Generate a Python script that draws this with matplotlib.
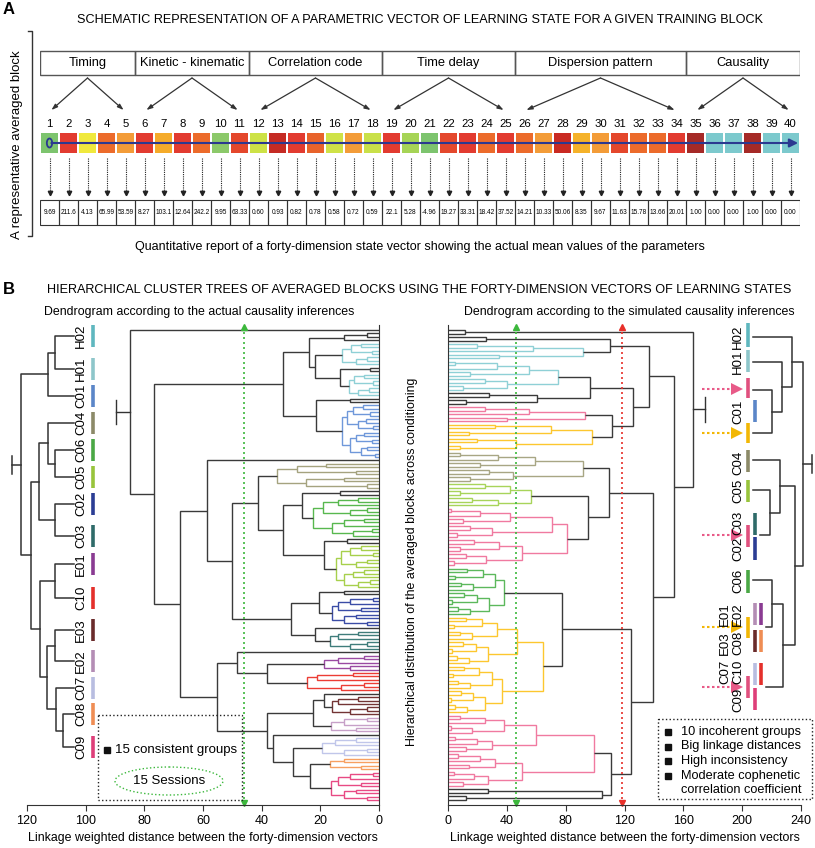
import matplotlib
matplotlib.use('Agg')
import matplotlib.pyplot as plt
from matplotlib.patches import Rectangle, Ellipse

plt.rcParams['font.family'] = ['Liberation Sans', 'DejaVu Sans']

# ------------------------------------------------------------------ data
CATEGORIES = ['Timing', 'Kinetic - kinematic', 'Correlation code', 'Time delay',
              'Dispersion pattern', 'Causality']
CATEGORY_RANGES = [(1, 5), (6, 11), (12, 18), (19, 25), (26, 34), (35, 40)]
PARAM_INDEX = list(range(1, 41))
PARAM_VALUES = ['9.69', '211.6', '4.13', '65.99', '53.59', '8.27', '103.1', '12.64',
                '242.2', '9.95', '63.33', '0.60', '0.93', '0.82', '0.78', '0.58',
                '0.72', '0.59', '22.1', '5.28', '-4.96', '19.27', '33.31', '18.42',
                '37.52', '14.21', '10.33', '50.06', '8.35', '9.67', '11.63', '15.78',
                '13.66', '20.01', '1.00', '0.00', '0.00', '1.00', '0.00', '0.00']
PARAM_COLORS = ['#7dc46e', '#e23b30', '#f0e93d', '#ec6b2b', '#f39c38', '#e23b30',
                '#f5ab2a', '#e23b30', '#ec6b2b', '#8cc96a', '#e4472c', '#cde246',
                '#c52b24', '#e23b30', '#e8632b', '#cfe247', '#f39c38', '#c9e049',
                '#e23b30', '#a6d456', '#7dc46e', '#e4482d', '#e23b30', '#ec6b2b',
                '#e23b30', '#ec6b2b', '#f39c38', '#c92a22', '#f5b22a', '#f39c38',
                '#e4472c', '#ec6b2b', '#ec6b2b', '#e23b30', '#a52a27', '#7cc9cd',
                '#7cc9cd', '#a52a27', '#7cc9cd', '#7cc9cd']

# within-group merge heights (actual causality dendrogram)
L_H02 = [12.7, 9.5, 8, 6, 4, 2.5]
L_H01 = [10.2, 8.5, 7, 5, 3.5, 2]
L_C01 = [12.5, 11, 10, 9, 8, 7, 6, 5.5, 5, 4.5, 4, 3, 2.5, 2, 1.5]
L_C04 = [34.8, 28, 25, 18, 12, 8, 4]
L_C06 = [22.5, 19, 16, 14, 12, 10, 9, 7, 5, 4, 2.5]
L_C05 = [14.7, 13, 12, 10, 9, 8, 7, 6, 5, 4, 3, 2]
L_C02 = [16, 14, 12, 10, 8, 6, 4, 2]
L_C03 = [16.7, 14, 10, 7, 4]
L_E01 = [18.7, 14, 10, 5]
L_C10 = [24.6, 21, 13, 9, 5]
L_E03 = [16, 14, 10, 7, 4]
L_E02 = [16.3, 12, 8, 4]
L_C07 = [19.5, 15, 12, 8, 4]
L_C08 = [16.7, 12, 6]
L_C09 = [16.3, 14, 12, 10, 8, 6, 4, 2]
L_BLK_A = [12, 4]
L_BLK_B = [3]
L_BLK_C = [10]
L_BLK_D = [13.3]
L_BLK_E = [11]
L_BLK_F = [12]
SINGLE = []

LEFT_TREE = [85.0, ('k', SINGLE),
             [76.7,
              [32.7,
               [23.9, ('k', L_BLK_A), [21.8, ('H02', L_H02), [13.3, ('k', L_BLK_B), ('H01', L_H01)]]],
               [21.5, ('k', L_BLK_C), ('C01', L_C01)]],
              [67.9,
               [58.7, ('k', SINGLE),
                [50.2,
                 [41.3, ('C04', L_C04),
                  [32.7, [26.3, ('k', L_BLK_D), ('C06', L_C06)],
                   [18.8, ('k', L_BLK_E), ('C05', L_C05)]]],
                 [30.0, [20.5, ('k', L_BLK_F), ('C02', L_C02)],
                  [21.8, ('k', SINGLE), ('C03', L_C03)]]]],
               [55.3,
                [48.5, ('k', SINGLE), [38.2, ('E01', L_E01), ('C10', L_C10)]],
                [38.2,
                 [22.5, [18.7, ('k', SINGLE), ('E03', L_E03)], ('E02', L_E02)],
                 [36.1, ('k', SINGLE),
                  [29.3, ('C07', L_C07), [23.5, ('C08', L_C08), ('C09', L_C09)]]]]]]]]

# within-group merge heights (simulated causality dendrogram)
R_BLK1 = [11.6]
R_BLK2 = [26]
R_BLK3 = [60.5, 28, 12]
R_BLK4 = [104.9, 27, 12]
R_CYAN_A = [91.8, 58, 35, 20]
R_CYAN_B = [74.8, 55, 40, 33, 25, 15, 10, 5]
R_PINK_A = [93, 55, 40, 25]
R_YELLOW_A = [97.9, 70, 46, 32, 20, 14, 8]
R_KHAKI = [92, 59, 44, 34, 28, 22, 15, 8]
R_YGREEN = [56.6, 42, 34, 25, 16, 8]
R_PINK_B = [80.9, 71, 50, 42, 35, 30, 26, 22, 18, 15, 12, 10, 8, 6, 4, 2]
R_GREEN = [38, 32, 28, 24, 20, 17, 15, 13, 11, 9, 7, 5, 3]
R_YELLOW_B = [64.5, 47, 37, 33, 30, 27, 25, 23, 21, 19, 17, 16, 15, 14, 13, 12, 11,
              10, 9, 8, 7, 6, 5, 4, 3.5, 3, 2]
R_PINK_C = [99.2, 60, 50, 38, 32, 30, 27, 25, 22, 20, 18, 16, 14, 12, 10, 8, 7, 5, 4, 2]

RIGHT_TREE = [166.6, ('k', R_BLK1),
              [153.7,
               [136.7,
                [110.2, ('k', R_BLK2), ('cyan', R_CYAN_A)],
                [125.8,
                 [96.6, ('cyan', R_CYAN_B), ('k', R_BLK3)],
                 [111.5, ('pink', R_PINK_A), ('yellow', R_YELLOW_A)]]],
               [139.5,
                [109.6, ('khaki', R_KHAKI), [95.5, ('ygreen', R_YGREEN), ('pink', R_PINK_B)]],
                [124.4,
                 [77.5, ('green', R_GREEN), ('yellow', R_YELLOW_B)],
                 [110.8, ('pink', R_PINK_C), ('k', R_BLK4)]]]]]

LINE_COLORS = {'k': '#3a3a3a', 'H02': '#8fd0d6', 'H01': '#8fd0d6', 'C01': '#6f98da',
               'C04': '#a5a37f', 'C06': '#58b84f', 'C05': '#a7d04c', 'C02': '#3a4ca6',
               'C03': '#3f7d7b', 'E01': '#9a4aa2', 'C10': '#ec3d35', 'E03': '#733434',
               'E02': '#c7a0c8', 'C07': '#c0c6ea', 'C08': '#f7a061', 'C09': '#e84a84',
               'cyan': '#8fd0d6', 'pink': '#f07aa0', 'yellow': '#fdc72f',
               'khaki': '#a8a684', 'ygreen': '#a8d45a', 'green': '#5cb85c'}
BAR_COLORS = {'H02': '#5fb7bf', 'H01': '#8ec6ca', 'C01': '#5b86c8', 'C04': '#8c8a68',
              'C06': '#4aa845', 'C05': '#98c43c', 'C02': '#2b3d94', 'C03': '#2f6b69',
              'E01': '#8a3b92', 'C10': '#e4302b', 'E03': '#6a2b2b', 'E02': '#b48db5',
              'C07': '#b8bde0', 'C08': '#ef8d54', 'C09': '#de3f79',
              'pink': '#e0507e', 'yellow': '#f2b705'}

# side trees of session groups
LEFT_LABELS = ['H02', 'H01', 'C01', 'C04', 'C06', 'C05', 'C02', 'C03', 'E01', 'C10',
               'E03', 'E02', 'C07', 'C08', 'C09']
LEFT_LABEL_Y = [336, 369, 396, 423, 450, 477, 504, 536, 564, 598, 630, 661, 688, 714, 747]
LEFT_MINI = [21, [48, [55, 'H02', 'H01'], 'C01'],
             [31, [39, [48, 'C04', [55, 'C06', 'C05']], [55, 'C02', 'C03']],
              [40, [55, 'E01', 'C10'], [47, [55, 'E03', 'E02'], [56, 'C07', [63, 'C08', 'C09']]]]]]

RIGHT_LABELS = ['H02', 'H01', 'C01', 'C04', 'C05', 'C03', 'C02', 'C06',
                'E01', 'E02', 'E03', 'C08', 'C07', 'C10', 'C09']
RIGHT_LABEL_X = [738, 738, 738, 738, 738, 738, 738, 738, 725, 738, 725, 738, 725, 738, 738]
RIGHT_LABEL_Y = [337, 362, 412, 463, 491, 523, 549, 581, 614, 614, 643, 643, 672, 672, 700]
RIGHT_BARS = [('H02', 748, 323, 347), ('H01', 748, 350, 372), ('pink', 748, 378, 398),
              ('C01', 755, 400, 422), ('yellow', 748, 423, 443), ('C04', 748, 450, 472),
              ('C05', 748, 480, 502), ('C03', 755, 513, 535), ('pink', 748, 525, 547),
              ('C02', 755, 537, 560), ('C06', 748, 570, 593), ('E02', 755, 603, 625),
              ('E01', 761, 603, 625), ('yellow', 748, 617, 638), ('E03', 755, 630, 652),
              ('C08', 761, 630, 652), ('C07', 755, 663, 685), ('C10', 761, 663, 685),
              ('pink', 748, 676, 698), ('C09', 755, 688, 710)]
RIGHT_MINI_Y = {'H02': 337, 'H01': 362, 'Cp': 390, 'Cy': 433, 'C04': 460, 'C05': 490,
                'C23': 535, 'C06': 580, 'E': 627, 'Cg': 687}
RIGHT_MINI_X = {'H02': 753, 'H01': 753, 'Cp': 753, 'Cy': 753, 'C04': 753, 'C05': 753,
                'C23': 760, 'C06': 753, 'E': 766, 'Cg': 766}
RIGHT_MINI = [803, [792, 'H02', [782, 'H01', [772, 'Cp', 'Cy']]],
              [795, [780, 'C04', [770, 'C05', 'C23']], [783, [772, 'C06', 'E'], 'Cg']]]
MISPLACED_ARROWS = [('pink', 389), ('yellow', 433), ('pink', 535), ('yellow', 627), ('pink', 687)]

LEFT_CUT = 46
RIGHT_CUTS = [(46, '#3cb83c'), (118, '#e8302a')]
LEFT_TICKS = [0, 20, 40, 60, 80, 100, 120]
RIGHT_TICKS = [0, 40, 80, 120, 160, 200, 240]
RIGHT_LEGEND = ['10 incoherent groups', 'Big linkage distances', 'High inconsistency',
                'Moderate cophenetic']

# ------------------------------------------------------------------ figure
W, H = 815, 848
fig = plt.figure(figsize=(W / 100, H / 100), dpi=100)
ax0 = fig.add_axes([0, 0, 1, 1])
ax0.set_xlim(0, W)
ax0.set_ylim(H, 0)
ax0.axis('off')
ax0.set_zorder(5)


def fig_axes(x0, y0, x1, y1):
    return fig.add_axes([x0 / W, 1 - y1 / H, (x1 - x0) / W, (y1 - y0) / H])


DARK = '#333333'

# ---------------- Part A
ax0.text(3, 9, 'A', fontsize=12, fontweight='bold', va='center', ha='left')
ax0.text(420, 20, 'SCHEMATIC REPRESENTATION OF A PARAMETRIC VECTOR OF LEARNING STATE FOR A GIVEN TRAINING BLOCK',
         fontsize=9.1, ha='center', va='center')
ax0.text(17, 145, 'A representative averaged block', rotation=90, fontsize=9.5,
         ha='center', va='center')
ax0.plot([28, 32, 32, 28], [31, 31, 236, 236], color=DARK, lw=1)

axA = fig_axes(40, 20, 800, 260)
axA.set_xlim(0.5, 40.5)
axA.set_ylim(260, 20)
axA.axis('off')

for name, (s, e) in zip(CATEGORIES, CATEGORY_RANGES):
    axA.add_patch(Rectangle((s - 0.5, 50.5), e - s + 1, 24.5, fill=False, ec='#555555', lw=1))
    c = (s + e) / 2
    axA.text(c, 63, name, ha='center', va='center', fontsize=9.3)
    for tgt in (s + 0.1, e - 0.1):
        axA.annotate('', xy=(tgt, 110), xytext=(c, 78),
                     arrowprops=dict(arrowstyle='-|>,head_length=0.35,head_width=0.12',
                                     color=DARK, lw=0.9, shrinkA=0, shrinkB=0))

for k, col, val in zip(PARAM_INDEX, PARAM_COLORS, PARAM_VALUES):
    axA.text(k, 124, str(k), fontsize=8.2, ha='center', va='center')
    axA.add_patch(Rectangle((k - 0.44, 133), 0.88, 20, fc=col, ec='none'))
    axA.plot([k, k], [158, 191], ls=(0, (1, 1)), color='#222222', lw=0.8)
    axA.plot(k, 193, marker='v', ms=3.2, color='#222222')
    axA.add_patch(Rectangle((k - 0.5, 200), 1, 25, fill=False, ec='#333333', lw=0.8))
    axA.text(k, 212.5, val, fontsize=4.7, ha='center', va='center')

axA.annotate('', xy=(40.4, 143), xytext=(1.1, 143),
             arrowprops=dict(arrowstyle='-|>,head_length=0.5,head_width=0.25',
                             color='#2b3990', lw=1.5, shrinkA=0, shrinkB=0))
axA.add_patch(Ellipse((1, 143), 0.28, 9, fill=False, ec='#2b3990', lw=1.3))
ax0.text(420, 247, 'Quantitative report of a forty-dimension state vector showing the actual mean values of the parameters',
         fontsize=9.0, ha='center', va='center')

# ---------------- Part B texts
ax0.text(3, 289, 'B', fontsize=12, fontweight='bold', va='center', ha='left')
ax0.text(419, 290, 'HIERARCHICAL CLUSTER TREES OF AVERAGED BLOCKS USING THE FORTY-DIMENSION VECTORS OF LEARNING STATES',
         fontsize=9.1, ha='center', va='center')
ax0.text(199, 312, 'Dendrogram according to the actual causality inferences',
         fontsize=8.9, ha='center', va='center')
ax0.text(629, 312, 'Dendrogram according to the simulated causality inferences',
         fontsize=8.9, ha='center', va='center')
ax0.text(412, 562, 'Hierarchical distribution of the averaged blocks across conditioning',
         rotation=90, fontsize=8.9, ha='center', va='center')


# ---------------- dendrogram helpers
def build_group(heights):
    hs = sorted(heights, reverse=True)

    def rec(h):
        if not h:
            return None
        rest = h[1:]
        return [h[0], rec(rest[0::2]), rec(rest[1::2])]
    return rec(hs)


def draw_tree(ax, node, color, state):
    if node is None:
        y = state[0]
        state[0] += 1
        return y, 0.0
    if isinstance(node, tuple):
        key, hs = node
        return draw_tree(ax, build_group(hs), LINE_COLORS[key], state)
    h, a, b = node
    ya, xa = draw_tree(ax, a, color, state)
    yb, xb = draw_tree(ax, b, color, state)
    ax.plot([xa, h, h, xb], [ya, ya, yb, yb], color=color, lw=1.0,
            solid_joinstyle='miter', solid_capstyle='butt')
    return (ya + yb) / 2, h


def setup_dendro(ax, xlim, ticks, side):
    ax.set_xlim(*xlim)
    ax.set_xticks(ticks)
    ax.set_yticks([])
    ax.patch.set_visible(False)
    ax.spines['top'].set_visible(False)
    ax.spines['left' if side == 'right' else 'right'].set_visible(False)
    ax.spines['bottom'].set_color(DARK)
    ax.spines[side].set_color(DARK)
    ax.tick_params(axis='x', direction='out', length=4, labelsize=9, color=DARK)
    ax.set_xlabel('Linkage weighted distance between the forty-dimension vectors',
                  fontsize=8.9, labelpad=3)


def cut_line(ax, x, color, y0, y1):
    ax.plot([x, x], [y0, y1], ls=(0, (1.2, 1.8)), color=color, lw=1.2, clip_on=False)
    ax.plot(x, y0, marker='^', ms=4, color=color, clip_on=False)
    ax.plot(x, y1, marker='v', ms=4, color=color, clip_on=False)


# ---------------- left dendrogram
axL = fig_axes(27, 325, 379, 805)
st = [0]
yr, xr = draw_tree(axL, LEFT_TREE, LINE_COLORS['k'], st)
nL = st[0]
sp = (800 - 330) / (nL - 1)
axL.set_ylim(nL - 1 + 5 / sp, -5 / sp)
setup_dendro(axL, (120, 0), LEFT_TICKS, 'right')
axL.plot([xr, 89.5], [yr, yr], color=DARK, lw=1)
axL.plot([89.5, 89.5], [yr - 3.6, yr + 3.6], color=DARK, lw=1)
cut_line(axL, LEFT_CUT, '#3cb83c', -5 / sp + 0.6, nL - 1 + 5 / sp - 0.6)

# ---------------- right dendrogram
axR = fig_axes(448, 325, 801, 805)
st = [0]
yr, xr = draw_tree(axR, RIGHT_TREE, LINE_COLORS['k'], st)
nR = st[0]
sp = (800 - 330) / (nR - 1)
axR.set_ylim(nR - 1 + 5 / sp, -5 / sp)
setup_dendro(axR, (0, 240), RIGHT_TICKS, 'left')
axR.plot([xr, 174.8], [yr, yr], color=DARK, lw=1)
axR.plot([174.8, 174.8], [yr - 3.6, yr + 3.6], color=DARK, lw=1)
for x, c in RIGHT_CUTS:
    cut_line(axR, x, c, -5 / sp + 0.6, nR - 1 + 5 / sp - 0.6)


# ---------------- side trees
def draw_mini(node, ypos, xpos):
    if isinstance(node, str):
        return ypos[node], xpos[node]
    x, a, b = node
    ya, xa = draw_mini(a, ypos, xpos)
    yb, xb = draw_mini(b, ypos, xpos)
    ax0.plot([xa, x, x, xb], [ya, ya, yb, yb], color=DARK, lw=1.1)
    return (ya + yb) / 2, x


ym, xm = draw_mini(LEFT_MINI, dict(zip(LEFT_LABELS, LEFT_LABEL_Y)),
                   {lab: 74 for lab in LEFT_LABELS})
ax0.plot([xm, 12], [ym, ym], color=DARK, lw=1.1)
ax0.plot([12, 12], [ym - 9, ym + 9], color=DARK, lw=1.1)
for lab, y in zip(LEFT_LABELS, LEFT_LABEL_Y):
    ax0.text(81, y, lab, rotation=90, fontsize=9.5, ha='center', va='center')
    ax0.plot([93, 93], [y - 11, y + 11], color=BAR_COLORS[lab], lw=2.6, solid_capstyle='butt')

ym, xm = draw_mini(RIGHT_MINI, RIGHT_MINI_Y, RIGHT_MINI_X)
ax0.plot([xm, 812], [ym, ym], color=DARK, lw=1.1)
ax0.plot([812, 812], [ym - 9, ym + 9], color=DARK, lw=1.1)
for lab, x, y in zip(RIGHT_LABELS, RIGHT_LABEL_X, RIGHT_LABEL_Y):
    ax0.text(x, y, lab, rotation=90, fontsize=9.5, ha='center', va='center')
for key, x, y0, y1 in RIGHT_BARS:
    ax0.plot([x, x], [y0, y1], color=BAR_COLORS[key], lw=2.6, solid_capstyle='butt')
for key, y in MISPLACED_ARROWS:
    c = BAR_COLORS[key] if key == 'yellow' else '#e85a88'
    ax0.plot([702, 734], [y, y], ls=(0, (1.2, 1.2)), color=c, lw=1.5)
    ax0.plot(737, y, marker='>', ms=9, color=c, mew=0)

# ---------------- legends
ax0.add_patch(Rectangle((98, 715), 144, 85, fill=False, ls=':', lw=1, ec='#222222'))
ax0.plot(107, 750, marker='s', ms=5, color='#111111')
ax0.text(115, 750, '15 consistent groups', fontsize=9.5, va='center', ha='left')
ax0.add_patch(Ellipse((169, 781), 108, 28, fill=False, ls=':', lw=1, ec='#3cb83c'))
ax0.text(169, 781, '15 Sessions', fontsize=9.5, va='center', ha='center')

ax0.add_patch(Rectangle((658, 719), 154, 80, fill=False, ls=':', lw=1, ec='#222222'))
for i, t in enumerate(RIGHT_LEGEND):
    y = 732 + i * 14.5
    ax0.plot(668, y, marker='s', ms=5, color='#111111')
    ax0.text(681, y, t, fontsize=9.2, va='center', ha='left')
ax0.text(681, 732 + 4 * 14.5, 'correlation coefficient', fontsize=9.2, va='center', ha='left')

fig.savefig('out.png', dpi=100)
